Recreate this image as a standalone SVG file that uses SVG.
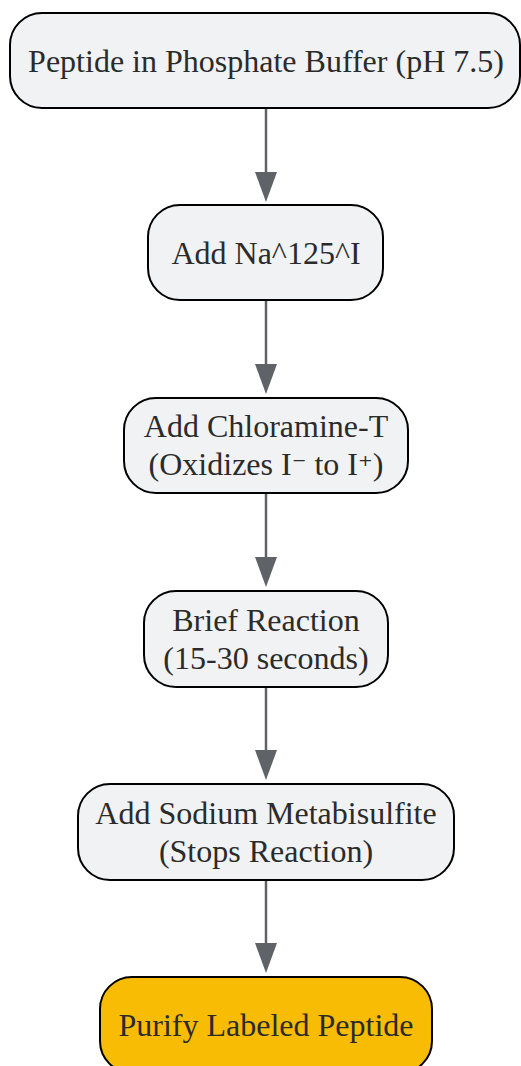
<svg xmlns="http://www.w3.org/2000/svg" width="521" height="1066" viewBox="0 0 521 1066">
<defs>
<style>
.n rect{fill:#f1f2f4;stroke:#000;stroke-width:2}
.n.hl rect{fill:#f9bc05}
.n text{font-family:"Liberation Serif","Times New Roman",serif;font-size:32px;fill:#2b2b2b;text-anchor:middle}
.n tspan.s{font-family:"DejaVu Serif",serif;font-size:28px}
.c path{stroke:#5f6368;stroke-width:2.5;fill:none}
.c polygon{fill:#5f6368}
</style>
</defs>
<rect width="521" height="1066" fill="#fff"/>
<g class="c">
<path d="M266,109 V190"/>
<polygon points="255,172 277,172 266,202"/>
<path d="M266,301 V382"/>
<polygon points="255,364 277,364 266,394"/>
<path d="M266,494 V575"/>
<polygon points="255,557 277,557 266,587"/>
<path d="M266,688 V768"/>
<polygon points="255,750 277,750 266,780"/>
<path d="M266,881 V961"/>
<polygon points="255,943 277,943 266,973"/>
</g>
<g id="n1" class="n"><rect x="10" y="13" width="510" height="95" rx="32"/><text x="266" y="72">Peptide in Phosphate Buffer (pH 7.5)</text></g>
<g id="n2" class="n"><rect x="148" y="205" width="235" height="95" rx="32"/><text x="266" y="264">Add Na^125^I</text></g>
<g id="n3" class="n"><rect x="124" y="398" width="284" height="95" rx="32"/><text x="266" y="437">Add Chloramine-T</text><text x="266" y="475">(Oxidizes I<tspan class="s">⁻</tspan> to I<tspan class="s">⁺</tspan>)</text></g>
<g id="n4" class="n"><rect x="144" y="591" width="244" height="96" rx="32"/><text x="266" y="631">Brief Reaction</text><text x="266" y="669">(15-30 seconds)</text></g>
<g id="n5" class="n"><rect x="78" y="784" width="376" height="96" rx="32"/><text x="266" y="824">Add Sodium Metabisulfite</text><text x="266" y="862">(Stops Reaction)</text></g>
<g id="n6" class="n hl"><rect x="100" y="977" width="332" height="96" rx="32"/><text x="266" y="1036">Purify Labeled Peptide</text></g>
</svg>
